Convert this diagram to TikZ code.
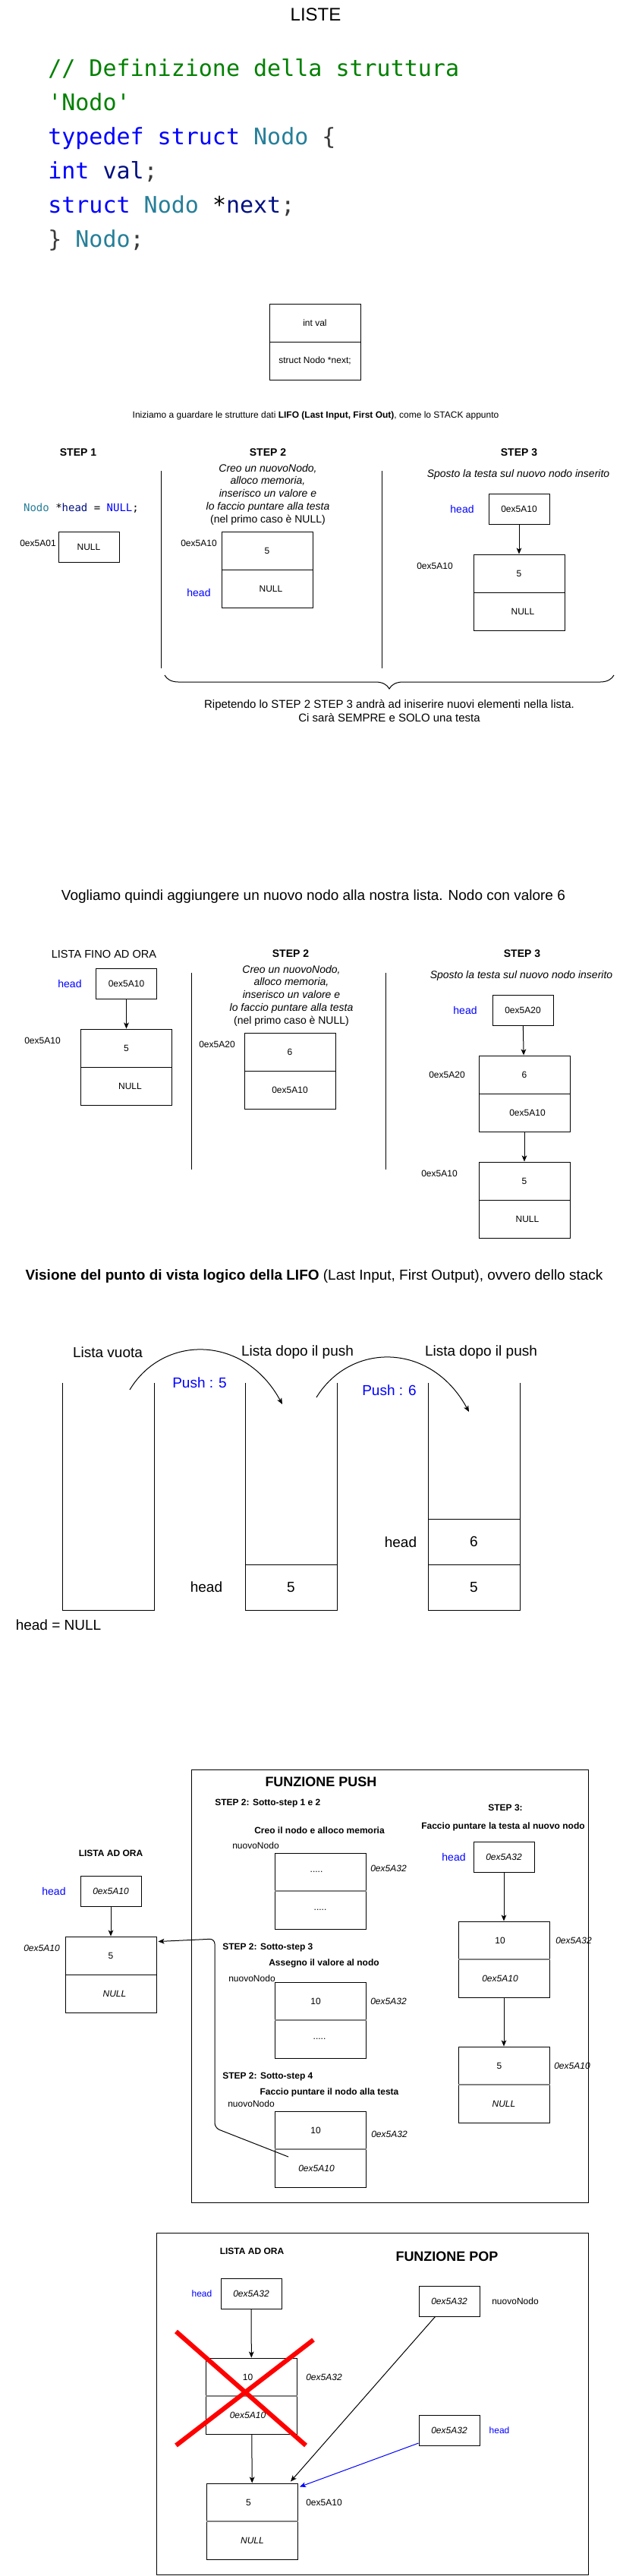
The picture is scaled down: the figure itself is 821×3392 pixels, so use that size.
\documentclass[tikz,border=0pt]{standalone}
\usepackage{fontspec}
\setmainfont{Liberation Sans}
\setmonofont{DejaVu Sans Mono}
\usetikzlibrary{arrows.meta,decorations.pathreplacing}
\definecolor{cmt}{RGB}{0,128,0}
\definecolor{kw}{RGB}{0,0,255}
\definecolor{ty}{RGB}{38,127,153}
\definecolor{vr}{RGB}{0,16,128}
\definecolor{pn}{RGB}{59,59,59}
\definecolor{hblue}{RGB}{0,0,255}
\definecolor{dgrey}{RGB}{128,128,128}
\newcommand\szA{\fontsize{9}{10.8}\selectfont}
\newcommand\szB{\fontsize{10.5}{12.6}\selectfont}
\newcommand\szC{\fontsize{10.95}{13.2}\selectfont}
\newcommand\szD{\fontsize{11.25}{13.5}\selectfont}
\newcommand\szE{\fontsize{14.25}{17.1}\selectfont}
\newcommand\szP{\fontsize{13.5}{16.2}\selectfont}
\newcommand\szG{\fontsize{18}{21.6}\selectfont}
\newcommand\szH{\fontsize{22.5}{27}\selectfont}
% name, cx, cy, top text, bottom text, divider style, dx top, dx bottom
\newcommand{\lnode}[8]{%
  \node[nbox] (#1) at (#2,#3) {};
  \draw[#6] (#1.west) -- (#1.east);
  \node[lbl] (#1-t) at ({#2+(#7)},{#3-25}) {#4};
  \node[lbl] (#1-b) at ({#2+(#8)},{#3+25}) {#5};
}
\begin{document}
\begin{tikzpicture}[x=0.75pt,y=-0.75pt,
  lbl/.style={inner sep=0pt, font=\szA},
  ilbl/.style={inner sep=0pt, font=\szA\itshape},
  blbl/.style={inner sep=0pt, font=\szA\bfseries},
  nbox/.style={draw, line width=0.75pt, minimum width=90pt, minimum height=75pt, inner sep=0pt},
  sbox/.style={draw, line width=0.75pt, minimum width=60pt, minimum height=30pt, inner sep=0pt, font=\szA},
  hdl/.style={inner sep=0pt, text=hblue, font=\szB},
  steplbl/.style={inner sep=0pt, font=\szB\bfseries},
  code/.style={inner sep=0pt, font=\szH\ttfamily, anchor=base west},
  arr/.style={line width=0.75pt, -{Stealth[length=6pt,width=5pt,inset=1.5pt]}},
  plain/.style={line width=0.75pt},
  dblack/.style={line width=0.75pt},
  dgray/.style={draw=dgrey, line width=1.5pt},
  cell/.style={draw, line width=0.75pt, minimum width=90.75pt, minimum height=45pt, inner sep=0pt, font=\szE},
  big/.style={inner sep=0pt, font=\szE},
]
\fill[white] (0,0) rectangle (821,3392);
\useasboundingbox (0,0) rectangle (821,3392);

% ---------- title and code ----------
\node[inner sep=0pt, font=\szG] (title) at (416,19) {LISTE};
\node[code] (c1) at (63,100) {\color{cmt}// Definizione della struttura};
\node[code] (c2) at (63,145) {\color{cmt}'Nodo'};
\node[code] (c3) at (63,190) {{\color{kw}typedef struct} {\color{ty}Nodo} {\color{pn}\{}};
\node[code] (c4) at (63,235) {{\color{kw}int} {\color{vr}val}{\color{pn};}};
\node[code] (c5) at (63,280) {{\color{kw}struct} {\color{ty}Nodo} *{\color{vr}next}{\color{pn};}};
\node[code] (c6) at (63,325) {{\color{pn}\}} {\color{ty}Nodo}{\color{pn};}};

% ---------- struct box ----------
\lnode{sb}{415}{450}{int val}{struct Nodo *next;}{dblack}{0}{0}
\node[lbl] (intro) at (416,547) {Iniziamo a guardare le strutture dati \textbf{LIFO (Last Input, First Out)}, come lo STACK appunto};

% ---------- steps 1-3 ----------
\node[steplbl] (s1) at (103,596) {STEP 1};
\node[steplbl] (s2) at (353,596) {STEP 2};
\node[steplbl] (s3) at (684,596) {STEP 3};
\coordinate (v1a) at (212,620); \coordinate (v1b) at (212,880);
\coordinate (v2a) at (503,620); \coordinate (v2b) at (503,880);
\draw[plain] (v1a) -- (v1b);
\draw[plain] (v2a) -- (v2b);
\node[inner sep=0pt, font=\szB, align=center] (s2t) at (353,651) {\textit{Creo un nuovoNodo,}\\\textit{alloco memoria,}\\\textit{inserisco un valore e}\\\textit{lo faccio puntare alla testa}\\(nel primo caso è NULL)};
\node[inner sep=0pt, font=\szB\ttfamily] (s1c) at (107,669) {{\color{ty}Nodo} *{\color{vr}head} = {\color{kw}NULL};};
\node[lbl] (a01) at (50,715) {0ex5A01};
\node[sbox] (null1) at (117,720) {NULL};
\lnode{n2}{352}{750}{5}{NULL}{dblack}{0}{5}
\node[lbl] (n2a) at (262,715) {0ex5A10};
\node[hdl] (n2h) at (262,780) {head};
\node[inner sep=0pt, font=\szB\itshape] (s3t) at (683,625) {Sposto la testa sul nuovo nodo inserito};
\node[sbox] (h3) at (684,670) {0ex5A10};
\node[hdl] (h3l) at (609,670) {head};
\lnode{n3}{684}{780}{5}{NULL}{dblack}{0}{5}
\draw[arr] (h3) -- (n3);
\node[lbl] (n3a) at (573,745) {0ex5A10};
\coordinate (br1) at (809,889); \coordinate (br2) at (217,889);
\draw[plain, decorate, decoration={brace, amplitude=13.5pt}] (br1) -- (br2);
\node[inner sep=0pt, font=\szD, align=center] (brt) at (513,936) {Ripetendo lo STEP 2 STEP 3 andrà ad iniserire nuovi elementi nella lista.\\Ci sarà SEMPRE e SOLO una testa};

% ---------- second section ----------
\node[inner sep=0pt, font=\szE] (t2) at (413,1181) {Vogliamo quindi aggiungere un nuovo nodo alla nostra lista. Nodo con valore 6};
\node[inner sep=0pt, font=\szC] (lf) at (137,1256) {LISTA FINO AD ORA};
\node[steplbl] (t2s2) at (383,1256) {STEP 2};
\node[steplbl] (t2s3) at (688,1256) {STEP 3};
\node[hdl] (m1l) at (92,1295) {head};
\node[sbox] (m1) at (166.5,1295) {0ex5A10};
\lnode{m2}{166.5}{1405}{5}{NULL}{dblack}{0}{5}
\draw[arr] (m1) -- (m2);
\node[lbl] (m2a) at (56,1370) {0ex5A10};
\coordinate (v3a) at (252,1281); \coordinate (v3b) at (252,1540);
\coordinate (v4a) at (508,1281); \coordinate (v4b) at (508,1540);
\draw[plain] (v3a) -- (v3b);
\draw[plain] (v4a) -- (v4b);
\node[inner sep=0pt, font=\szB, align=center] (t2t) at (384,1311) {\textit{Creo un nuovoNodo,}\\\textit{alloco memoria,}\\\textit{inserisco un valore e}\\\textit{lo faccio puntare alla testa}\\(nel primo caso è NULL)};
\lnode{m3}{382}{1410}{6}{0ex5A10}{dblack}{0}{0}
\node[lbl] (m3a) at (286,1375) {0ex5A20};
\node[inner sep=0pt, font=\szB\itshape] (t2t3) at (687,1285) {Sposto la testa sul nuovo nodo inserito};
\node[sbox] (m4) at (689,1330) {0ex5A20};
\node[hdl] (m4l) at (613,1330) {head};
\lnode{m5}{691}{1440}{6}{0ex5A10}{dblack}{0}{4}
\node[lbl] (m5a) at (589,1415) {0ex5A20};
\lnode{m6}{691}{1580}{5}{NULL}{dblack}{0}{4}
\node[lbl] (m6a) at (579,1545) {0ex5A10};
\draw[arr] (m4) -- (m5);
\draw[arr] (m5) -- (m6);

% ---------- LIFO logical view ----------
\node[inner sep=0pt, font=\szE] (t3) at (414,1681) {\textbf{Visione del punto di vista logico della LIFO} (Last Input, First Output), ovvero dello stack};
\node[big] (lv) at (142,1781) {Lista vuota};
\node[big] (ld1) at (392,1781) {Lista dopo il push};
\node[big] (ld2) at (634,1781) {Lista dopo il push};
\node[big, text=hblue] (ps5) at (263,1821) {Push : 5};
\node[big, text=hblue] (ps6) at (513,1831) {Push : 6};
\coordinate (p1s) at (171,1830); \coordinate (p1e) at (372,1849);
\coordinate (p2s) at (417,1840); \coordinate (p2e) at (618,1859);
\draw[arr] (p1s) .. controls (215,1757) and (322,1757) .. (p1e);
\draw[arr] (p2s) .. controls (462,1767) and (568,1767) .. (p2e);
\draw[plain] (82,1821) -- (82,2120) -- (203,2120) -- (203,1821);
\draw[plain] (323,1821) -- (323,2120) -- (444,2120) -- (444,1821);
\draw[plain] (564,1821) -- (564,2120) -- (685,2120) -- (685,1821);
\node[cell] (k2a) at (383.5,2090) {5};
\node[cell] (k3b) at (624.5,2030) {6};
\node[cell] (k3a) at (624.5,2090) {5};
\node[big] (kh2) at (272,2090) {head};
\node[big] (kh3) at (528,2031) {head};
\node[big] (knull) at (77,2140) {head = NULL};

% ---------- FUNZIONE PUSH ----------
\draw[plain] (252,2330) rectangle (775,2900);
\node[inner sep=0pt, font=\szP\bfseries] (fp) at (423,2346) {FUNZIONE PUSH};
\node[blbl, anchor=west] (ss12) at (283,2375) {STEP 2: Sotto-step 1 e 2};
\node[blbl] (st3) at (666,2380) {STEP 3:};
\node[blbl] (cr) at (421,2410) {Creo il nodo e alloco memoria};
\node[blbl] (fpt) at (663,2405) {Faccio puntare la testa al nuovo nodo};
\node[lbl] (nn1) at (337,2430) {nuovoNodo};
\lnode{ba}{422}{2490}{.....}{.....}{dgray}{-5}{0}
\node[ilbl] (baa) at (512,2460) {0ex5A32};
\node[sbox, font=\szA\itshape] (rh) at (664,2445) {0ex5A32};
\node[hdl] (rhl) at (598,2445) {head};
\lnode{r10}{664}{2580}{10}{\textit{0ex5A10}}{dgray}{-5}{-5}
\node[ilbl] (r10a) at (756,2555) {0ex5A32};
\lnode{r5}{664}{2745}{5}{\textit{NULL}}{dgray}{-6}{0}
\node[ilbl] (r5a) at (754,2720) {0ex5A10};
\draw[arr] (rh) -- (r10);
\draw[arr] (r10) -- (r5);
\node[blbl] (lao) at (146,2440) {LISTA AD ORA};
\node[sbox, font=\szA\itshape] (lh) at (146,2490) {0ex5A10};
\node[hdl] (lhl) at (71,2490) {head};
\lnode{l5}{146}{2600}{5}{\textit{NULL}}{dblack}{0}{5}
\node[ilbl] (l5a) at (55,2565) {0ex5A10};
\draw[arr] (lh) -- (l5);
\node[blbl, anchor=west] (ss3) at (293,2565) {STEP 2: Sotto-step 3};
\node[blbl] (asg) at (427,2585) {Assegno il valore al nodo};
\node[lbl] (nn2) at (332,2605) {nuovoNodo};
\lnode{bb}{422}{2660}{10}{.....}{dgray}{-6}{-1}
\node[ilbl] (bba) at (512,2635) {0ex5A32};
\node[blbl, anchor=west] (ss4) at (293,2735) {STEP 2: Sotto-step 4};
\node[blbl] (fpn) at (434,2755) {Faccio puntare il nodo alla testa};
\node[lbl] (nn3) at (331,2770) {nuovoNodo};
\lnode{bc}{422}{2830}{10}{\textit{0ex5A10}}{dgray}{-6}{-5}
\node[ilbl] (bca) at (513,2810) {0ex5A32};
\coordinate (c4s) at (380,2840);
\draw[arr, rounded corners=5pt] (c4s) -- (283,2802) -- (283,2553) -- ([xshift=1.5pt,yshift=-5.25pt]l5.north east);

% ---------- FUNZIONE POP ----------
\draw[plain] (206,2940) rectangle (775,3390);
\node[blbl] (pl) at (332,2964) {LISTA AD ORA};
\node[inner sep=0pt, font=\szP\bfseries] (pt) at (589,2971) {FUNZIONE POP};
\node[sbox, font=\szA\itshape] (ph) at (331,3020) {0ex5A32};
\node[inner sep=0pt, text=hblue, font=\szA] (phl) at (266,3020) {head};
\lnode{p10}{331.5}{3155}{10}{\textit{0ex5A10}}{dgray}{-5}{-5}
\node[ilbl] (p10a) at (427,3130) {0ex5A32};
\lnode{p5}{332.5}{3320}{5}{\textit{NULL}}{dgray}{-5}{0}
\node[lbl] (p5a) at (427,3295) {0ex5A10};
\draw[arr] (ph) -- (p10);
\draw[arr] (p10) -- (p5);
\node[sbox, font=\szA\itshape] (pn) at (592,3030) {0ex5A32};
\node[lbl] (pnl) at (679,3030) {nuovoNodo};
\node[sbox, font=\szA\itshape] (phd) at (592,3200) {0ex5A32};
\node[inner sep=0pt, text=hblue, font=\szA] (phdl) at (658,3200) {head};
\draw[arr] ([xshift=16.5pt]pn.south west) -- ([xshift=-7.5pt,yshift=1.5pt]p5.north east);
\draw[arr, draw=hblue] ([yshift=-12.75pt]phd.west) -- ([xshift=1.5pt,yshift=-3.75pt]p5.north east);
\draw[red, line width=4.5pt] (232,3070) -- (403,3220);
\draw[red, line width=4.5pt] (413,3081) -- (232,3220);
\end{tikzpicture}
\end{document}
